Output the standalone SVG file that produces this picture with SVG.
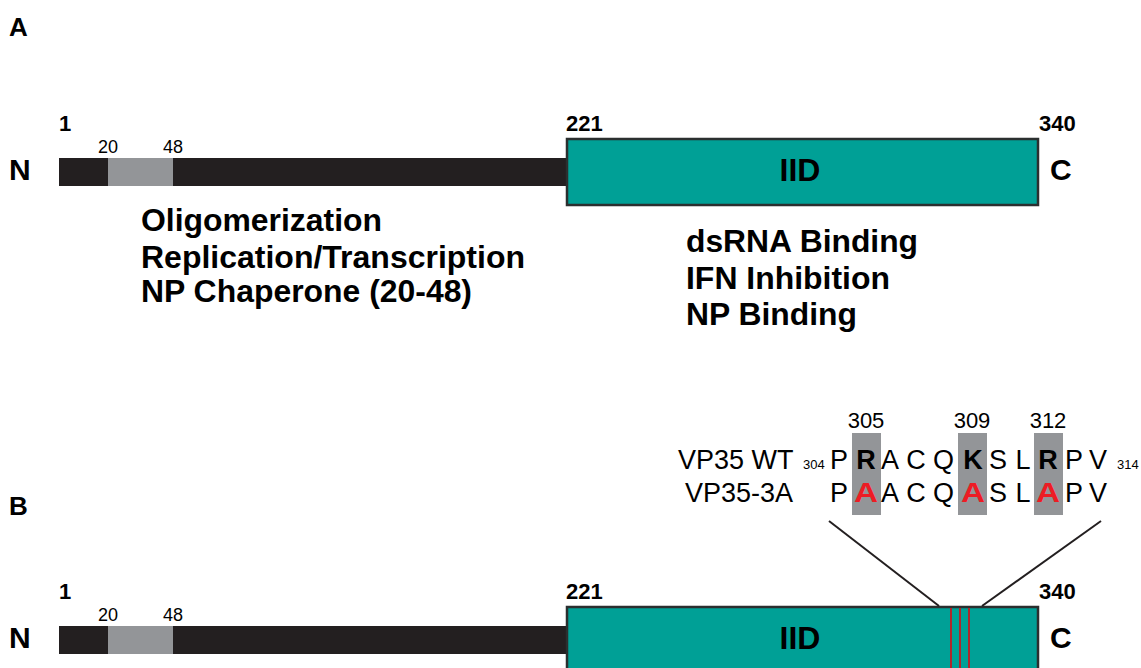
<svg xmlns="http://www.w3.org/2000/svg" width="1141" height="668" viewBox="0 0 1141 668">
<style>
text{font-family:"Liberation Sans",Arial,sans-serif;fill:#000}
.b{font-weight:bold}
.lab{font-size:26px;font-weight:bold}
.term{font-size:30px;font-weight:bold}
.pos{font-size:22px;font-weight:bold}
.sm{font-size:18px}
.dom{font-size:32px;font-weight:bold}
.fn{font-size:32px;font-weight:bold}
.seq{font-size:27px}
.tiny{font-size:13px}
.num{font-size:22px}
.red{fill:#ed1c24;font-weight:bold}
.bar{fill:#231f20}
.seg{fill:#939598}
.box{fill:#00a096;stroke:#2b2f2f;stroke-width:2.5}
.hl{fill:#939598}
.conn{stroke:#231f20;stroke-width:2;fill:none}
.mut{stroke:#b1262b;stroke-width:2}
</style>
<rect width="1141" height="668" fill="#fff"/>

<g id="panelA">
  <text class="lab" x="9" y="36">A</text>
  <g id="A-protein">
    <rect class="bar" x="59" y="158" width="510" height="28"/>
    <rect class="seg" x="108" y="158" width="65" height="28"/>
    <rect class="box" x="567" y="139" width="471" height="66"/>
    <text class="dom" x="800" y="181" text-anchor="middle">IID</text>
    <text class="term" x="9" y="180">N</text>
    <text class="term" x="1050" y="180">C</text>
    <text class="pos" x="59" y="131">1</text>
    <text class="sm" x="98" y="153">20</text>
    <text class="sm" x="163" y="153">48</text>
    <text class="pos" x="566" y="131">221</text>
    <text class="pos" x="1039" y="131">340</text>
  </g>
  <g id="A-ntd-functions">
    <text class="fn" x="141" y="231" textLength="241" lengthAdjust="spacingAndGlyphs">Oligomerization</text>
    <text class="fn" x="141" y="268" textLength="384" lengthAdjust="spacingAndGlyphs">Replication/Transcription</text>
    <text class="fn" x="141" y="302" textLength="331" lengthAdjust="spacingAndGlyphs">NP Chaperone (20-48)</text>
  </g>
  <g id="A-iid-functions">
    <text class="fn" x="686" y="252" textLength="232" lengthAdjust="spacingAndGlyphs">dsRNA Binding</text>
    <text class="fn" x="686" y="289" textLength="204" lengthAdjust="spacingAndGlyphs">IFN Inhibition</text>
    <text class="fn" x="686" y="325" textLength="171" lengthAdjust="spacingAndGlyphs">NP Binding</text>
  </g>
</g>

<g id="panelB">
  <text class="lab" x="9" y="515">B</text>
  <g id="B-sequence">
    <rect class="hl" x="852" y="433" width="29" height="82"/>
    <rect class="hl" x="958" y="433" width="29" height="82"/>
    <rect class="hl" x="1034" y="433" width="29" height="82"/>
    <text class="num" x="866" y="428" text-anchor="middle">305</text>
    <text class="num" x="972" y="428" text-anchor="middle">309</text>
    <text class="num" x="1048" y="428" text-anchor="middle">312</text>
    <text class="seq" x="678" y="469">VP35 WT</text>
    <text class="tiny" x="803" y="469">304</text>
    <g class="seq" text-anchor="middle">
      <text x="839" y="469">P</text>
      <text x="866" y="469" class="b">R</text>
      <text x="890" y="469">A</text>
      <text x="916" y="469">C</text>
      <text x="943.5" y="469">Q</text>
      <text x="973" y="469" class="b">K</text>
      <text x="998" y="469">S</text>
      <text x="1023" y="469">L</text>
      <text x="1048" y="469" class="b">R</text>
      <text x="1074" y="469">P</text>
      <text x="1098" y="469">V</text>
    </g>
    <text class="tiny" x="1117" y="469">314</text>
    <text class="seq" x="685" y="502">VP35-3A</text>
    <g class="seq" text-anchor="middle">
      <text x="839" y="502">P</text>
      <text x="866" y="502" class="red" textLength="24" lengthAdjust="spacingAndGlyphs">A</text>
      <text x="890" y="502">A</text>
      <text x="916" y="502">C</text>
      <text x="943.5" y="502">Q</text>
      <text x="973" y="502" class="red" textLength="24" lengthAdjust="spacingAndGlyphs">A</text>
      <text x="998" y="502">S</text>
      <text x="1023" y="502">L</text>
      <text x="1048" y="502" class="red" textLength="24" lengthAdjust="spacingAndGlyphs">A</text>
      <text x="1074" y="502">P</text>
      <text x="1098" y="502">V</text>
    </g>
  </g>
  <g id="B-protein">
    <rect class="bar" x="59" y="626" width="510" height="28"/>
    <rect class="seg" x="108" y="626" width="65" height="28"/>
    <rect class="box" x="567" y="607" width="471" height="70"/>
    <line class="mut" x1="951" y1="608" x2="951" y2="668"/>
    <line class="mut" x1="960" y1="608" x2="960" y2="668"/>
    <line class="mut" x1="969" y1="608" x2="969" y2="668"/>
    <text class="dom" x="800" y="649" text-anchor="middle">IID</text>
    <text class="term" x="9" y="648">N</text>
    <text class="term" x="1050" y="648">C</text>
    <text class="pos" x="59" y="599">1</text>
    <text class="sm" x="98" y="621">20</text>
    <text class="sm" x="163" y="621">48</text>
    <text class="pos" x="566" y="599">221</text>
    <text class="pos" x="1039" y="599">340</text>
  </g>
  <g id="connectors">
    <line class="conn" x1="829" y1="521" x2="939" y2="606"/>
    <line class="conn" x1="1101" y1="521" x2="982" y2="606"/>
  </g>
</g>
</svg>
